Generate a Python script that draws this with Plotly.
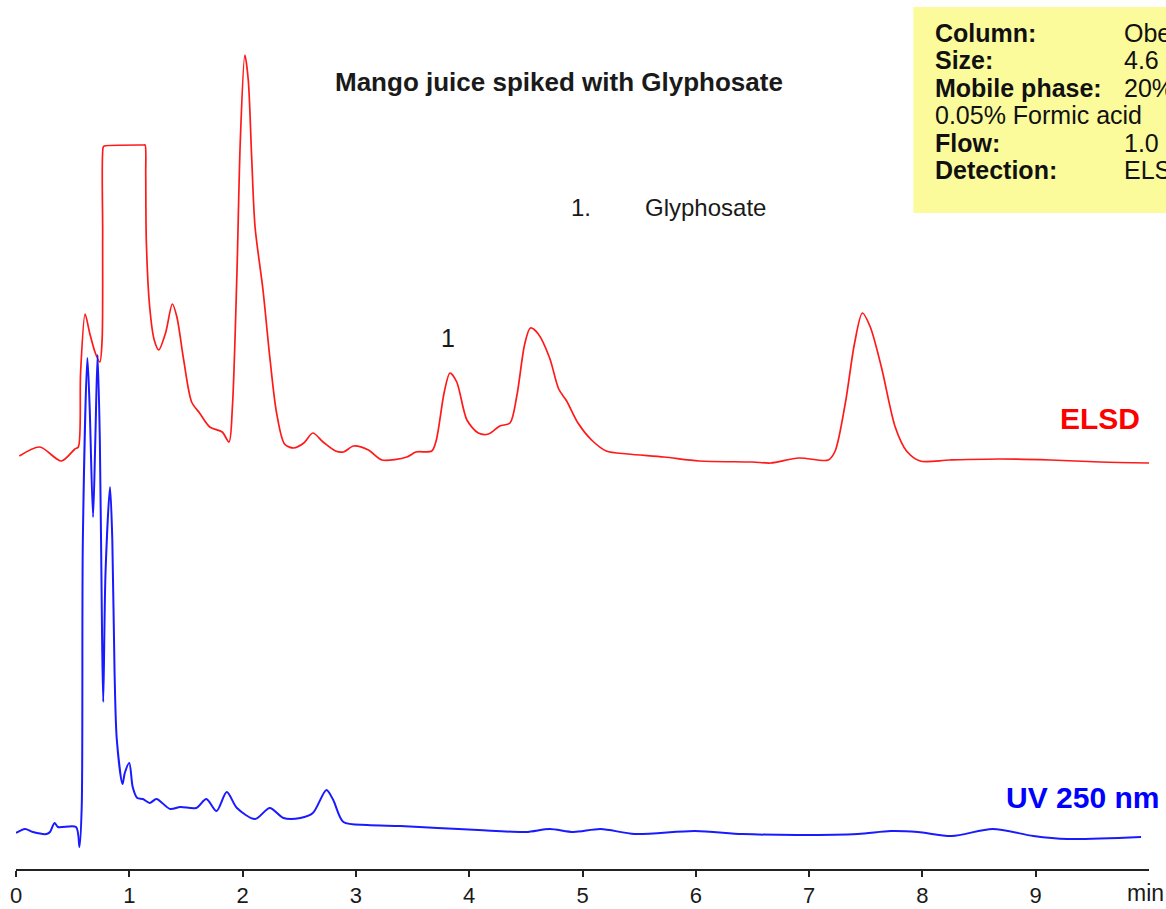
import plotly.graph_objects as go

# ---- data (time in min, detector signal in arbitrary units) ----
elsd_time = [0.03, 0.21, 0.40, 0.52, 0.55, 0.57, 0.61, 0.65, 0.70, 0.74, 0.76, 0.765, 0.77, 0.78,
             1.13, 1.14, 1.145, 1.15, 1.18, 1.22, 1.26, 1.32, 1.38, 1.42, 1.48, 1.55, 1.62, 1.71,
             1.82, 1.88, 1.91, 1.95, 1.98, 2.02, 2.05, 2.08, 2.11, 2.18, 2.24, 2.30, 2.37, 2.45,
             2.54, 2.62, 2.71, 2.82, 2.89, 2.98, 3.11, 3.23, 3.45, 3.53, 3.67, 3.71, 3.78, 3.83,
             3.89, 3.98, 4.08, 4.17, 4.27, 4.36, 4.42, 4.49, 4.54, 4.61, 4.71, 4.79, 4.86, 4.96,
             5.08, 5.21, 5.40, 5.72, 6.03, 6.50, 6.66, 6.91, 7.17, 7.23, 7.32, 7.40, 7.47, 7.54,
             7.64, 7.76, 7.86, 7.98, 8.24, 8.68, 9.13, 9.57, 10.0]
elsd_signal = [419, 428, 414, 426, 428, 502, 561, 542, 522, 513, 535, 640, 728, 729,
               730, 730, 700, 635, 568, 535, 525, 542, 571, 558, 515, 473, 462, 448,
               443, 433, 468, 602, 735, 820, 795, 718, 648, 585, 518, 462, 431, 427,
               432, 442, 433, 424, 423, 429, 425, 415, 418, 423, 424, 435, 483, 502,
               493, 455, 442, 441, 449, 452, 479, 531, 547, 541, 517, 486, 474, 452,
               435, 424, 421, 418, 414, 413, 412, 417, 415, 424, 472, 531, 562, 548,
               507, 448, 424, 414, 415, 416, 415, 413, 412]

uv_time = [0.00, 0.08, 0.15, 0.27, 0.30, 0.34, 0.37, 0.53, 0.56, 0.58, 0.59, 0.63, 0.65, 0.68,
           0.70, 0.72, 0.74, 0.76, 0.77, 0.79, 0.83, 0.85, 0.87, 0.89, 0.94, 0.96, 1.00, 1.03,
           1.07, 1.12, 1.18, 1.24, 1.36, 1.45, 1.59, 1.68, 1.77, 1.86, 1.95, 2.11, 2.24, 2.36,
           2.51, 2.62, 2.74, 2.80, 2.89, 3.10, 3.39, 3.72, 4.08, 4.50, 4.71, 4.92, 5.16, 5.46,
           5.99, 6.41, 6.89, 7.43, 7.72, 7.96, 8.26, 8.62, 8.98, 9.28, 9.93]
uv_signal = [42, 46, 43, 41, 43, 52, 48, 48, 28, 68, 335, 517, 468, 358,
             435, 520, 435, 235, 173, 302, 388, 335, 202, 135, 91, 102, 112, 88,
             77, 76, 72, 76, 66, 68, 67, 76, 64, 83, 67, 56, 67, 57,
             57, 62, 85, 75, 53, 50, 49, 47, 45, 43, 46, 43, 46, 41,
             44, 41, 40, 41, 44, 43, 39, 46, 39, 36, 38]

tick_values = [0, 1, 2, 3, 4, 5, 6, 7, 8, 9]
tick_labels = ["0", "1", "2", "3", "4", "5", "6", "7", "8", "9"]

info_labels = ["Column:", "Size:", "Mobile phase:", "0.05% Formic acid", "Flow:", "Detection:"]
info_values = ["Obelisc R", "4.6 x 150 mm, 5 µm, 100A", "20% ACN", "", "1.0 ml/min", "ELSD, UV 250 nm"]
info_bold = [True, True, True, False, True, True]

FONT = "Liberation Sans, Arial, sans-serif"
TOP = 5          # top margin (px)
PLOT_H = 864     # plot-area height (px)

fig = go.Figure()
fig.add_trace(go.Scatter(x=elsd_time, y=elsd_signal, mode="lines",
                         line=dict(color="#ff1a1a", width=1.7, shape="spline", smoothing=0.8),
                         hoverinfo="skip"))
fig.add_trace(go.Scatter(x=uv_time, y=uv_signal, mode="lines",
                         line=dict(color="#1a1aff", width=2, shape="spline", smoothing=0.8),
                         hoverinfo="skip"))

annotations = [
    dict(x=4.79, y=793, xref="x", yref="y", text="<b>Mango juice spiked with Glyphosate</b>",
         showarrow=False, font=dict(family=FONT, size=26, color="#1a1a1a"), xanchor="center", yanchor="middle"),
    dict(x=4.99, y=668, xref="x", yref="y", text="1.", showarrow=False,
         font=dict(family=FONT, size=24, color="#1a1a1a"), xanchor="center", yanchor="middle"),
    dict(x=5.53, y=668, xref="x", yref="y", text="Glyphosate", showarrow=False,
         font=dict(family=FONT, size=24, color="#1a1a1a"), xanchor="left", yanchor="middle"),
    dict(x=3.81, y=537, xref="x", yref="y", text="1", showarrow=False,
         font=dict(family=FONT, size=25, color="#1a1a1a"), xanchor="center", yanchor="middle"),
    dict(x=9.57, y=457, xref="x", yref="y", text="<b>ELSD</b>", showarrow=False,
         font=dict(family=FONT, size=30, color="#ff0000"), xanchor="center", yanchor="middle"),
    dict(x=1.0, y=78, xref="paper", yref="y", text="<b>UV 250 nm</b>", showarrow=False,
         font=dict(family=FONT, size=30, color="#0000ff"), xanchor="right", yanchor="middle", xshift=12),
    dict(x=1.0, y=0, xref="paper", yref="paper", text="min", showarrow=False,
         font=dict(family=FONT, size=23, color="#1a1a1a"), xanchor="right", yanchor="top",
         xshift=17, yshift=-9),
]

line_y = [33, 60, 88, 115, 143, 170]
for lab, val, bold, py in zip(info_labels, info_values, info_bold, line_y):
    yp = (TOP + PLOT_H - py) / PLOT_H
    annotations.append(dict(x=0.792 + 20 / 1133, y=yp, xref="paper", yref="paper",
                            text=f"<b>{lab}</b>" if bold else lab, showarrow=False,
                            font=dict(family=FONT, size=25, color="#111111"),
                            xanchor="left", yanchor="middle"))
    if val:
        annotations.append(dict(x=0.976, y=yp, xref="paper", yref="paper", text=val, showarrow=False,
                                font=dict(family=FONT, size=25, color="#111111"),
                                xanchor="left", yanchor="middle"))

fig.update_layout(
    width=1166, height=909,
    margin=dict(l=16, r=17, t=TOP, b=909 - TOP - PLOT_H, autoexpand=False),
    paper_bgcolor="white", plot_bgcolor="white",
    showlegend=False, hovermode=False,
    xaxis=dict(range=[0, 10], showgrid=False, zeroline=False, showline=True, automargin=False,
               linecolor="#222222", linewidth=1.5, ticks="outside", ticklen=6, tickwidth=1.5,
               tickcolor="#222222", tickvals=tick_values, ticktext=tick_labels,
               ticklabelstandoff=0,
               tickfont=dict(family=FONT, size=22, color="#1a1a1a"), fixedrange=True),
    yaxis=dict(range=[6, 870], visible=False, fixedrange=True, automargin=False),
    shapes=[dict(type="rect", xref="paper", yref="paper", x0=0.792, x1=1.04,
                 y0=(TOP + PLOT_H - 213) / PLOT_H, y1=(TOP + PLOT_H - 7) / PLOT_H,
                 fillcolor="#fbfb9c", line=dict(width=0), layer="below")],
    annotations=annotations,
)

fig.write_html("out.html", config={"displayModeBar": False},
               post_script="document.body.style.margin='0';document.body.style.overflow='hidden';")
